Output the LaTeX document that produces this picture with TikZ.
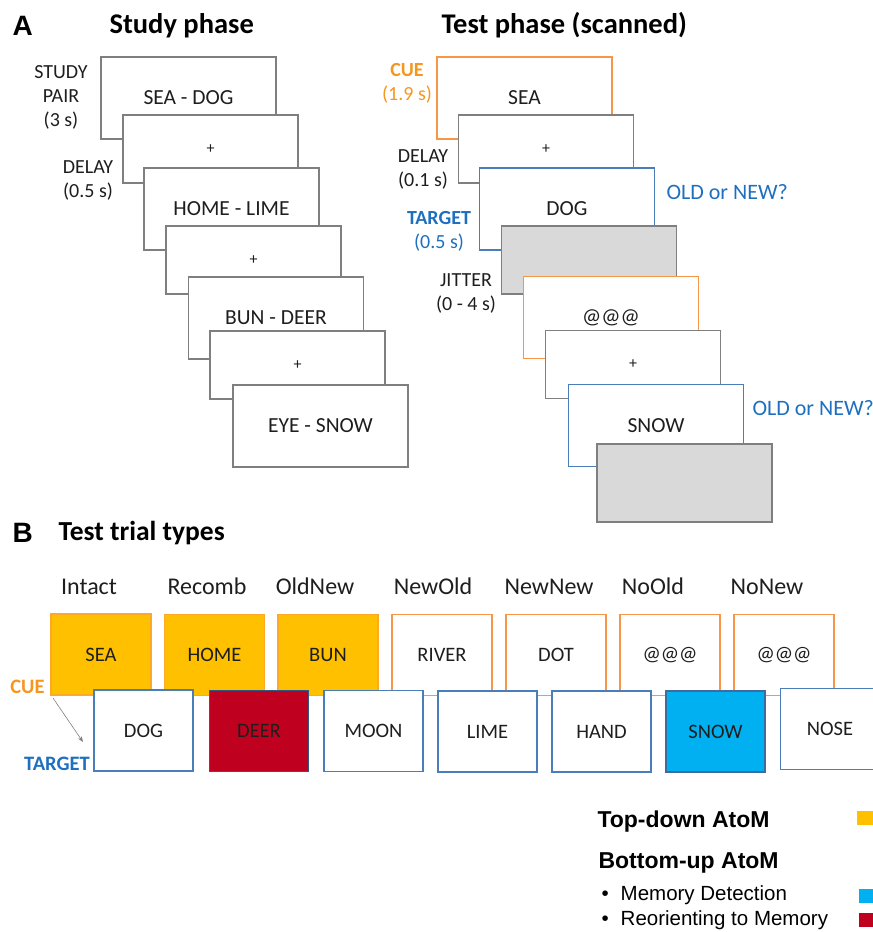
\documentclass[tikz,border=0pt]{standalone}
\usepackage{fontspec}
\setmainfont{Carlito}
\newfontfamily\arialfont{Liberation Sans}
\usetikzlibrary{arrows.meta, positioning}
\definecolor{framegray}{HTML}{7F7F7F}
\definecolor{inkgray}{HTML}{1E1E1E}
\definecolor{cueorange}{HTML}{F79646}
\definecolor{cuetext}{HTML}{F7961F}
\definecolor{tgtblue}{HTML}{4A7EBB}
\definecolor{tgttext}{HTML}{1F6FC0}
\definecolor{jittergray}{HTML}{D9D9D9}
\definecolor{tdyellow}{HTML}{FFC000}
\definecolor{reored}{HTML}{C0001F}
\definecolor{detblue}{HTML}{00B0F0}

\begin{document}
\begin{tikzpicture}[x=1pt, y=-1pt, >=Stealth]
 % We define the styles for the frames, boxes and labels
 \tikzset{
slide/.style = {draw=framegray, fill=white, line width=1.3pt, inner sep=0pt, minimum width=175pt, minimum height=82pt, text=inkgray, font=\fontsize{21.5}{24}\selectfont},
fixation/.style = {slide, minimum height=68pt, font=\fontsize{16}{18}\selectfont},
cueslide/.style = {slide, draw=cueorange, line width=1.6pt},
tgtslide/.style = {slide, draw=tgtblue, line width=1.6pt},
jitter/.style = {fixation, fill=jittergray},
lbl/.style = {align=center, anchor=base, text=inkgray, font=\fontsize{20}{24}\selectfont},
panel/.style = {anchor=base west, font=\arialfont\bfseries\fontsize{28}{32}\selectfont},
heading/.style = {anchor=base west, text=black, font=\bfseries\fontsize{28.5}{32}\selectfont},
query/.style = {anchor=base west, text=tgttext, font=\fontsize{22}{26}\selectfont},
cuebox/.style = {draw=cueorange, fill=white, line width=1.5pt, minimum width=100pt, minimum height=81pt, inner sep=0pt, text=inkgray, font=\fontsize{20.5}{24}\selectfont},
tdbox/.style = {cuebox, draw=cueorange!55!tdyellow, fill=tdyellow},
tgtbox/.style = {cuebox, draw=tgtblue, line width=1.8pt, minimum width=99pt},
trial/.style = {anchor=base, text=inkgray, font=\fontsize{24}{28}\selectfont},
keylbl/.style = {anchor=base, font=\bfseries\fontsize{20.5}{24}\selectfont},
legendhead/.style = {anchor=base west, font=\arialfont\bfseries\fontsize{23}{27}\selectfont},
bullet/.style = {anchor=base west, font=\arialfont\fontsize{20.5}{24}\selectfont},
swatch/.style = {anchor=north west, inner sep=0pt, minimum width=20pt, minimum height=14pt},
pointer/.style = {->, draw=gray, line width=0.6pt},
}
 \useasboundingbox (0,0) rectangle (873,932);

 % Panel A titles
 \node[panel] (pa) at (9,35) {A};
 \node[heading] (studytitle) at (106,33) {Study phase};
 \node[heading] (testtitle) at (438,33) {Test phase (scanned)};

 % Study phase frames
 \node[slide] (s1) at (188.5,98) {SEA - DOG};
 \node[fixation] (s2) at (210.5,149) {+};
 \node[slide] (s3) at (231.5,209) {HOME - LIME};
 \node[fixation] (s4) at (253.5,260) {+};
 \node[slide] (s5) at (276,318) {BUN - DEER};
 \node[fixation] (s6) at (297.5,365) {+};
 \node[slide] (s7) at (320.5,426) {EYE - SNOW};
 % (base of a stacked label is its last line)
 \node[lbl] (studylbl) at (61,126) {STUDY\\PAIR\\(3 s)};
 \node[lbl] (delaylbl) at (88,197) {DELAY\\(0.5 s)};

 % Test phase frames
 \node[cueslide] (t1) at (524.5,98) {SEA};
 \node[fixation] (t2) at (546,149) {+};
 \node[tgtslide] (t3) at (567,209) {DOG};
 \node[jitter] (t4) at (589,260) {};
 \node[cueslide] (t5) at (611,317.5) {@@@};
 \node[fixation] (t6) at (633,364.5) {+};
 \node[tgtslide] (t7) at (656,425.5) {SNOW};
 \node[jitter, minimum height=78pt] (t8) at (684.5,483) {};
 \node[lbl, text=cuetext] (cuelbl) at (407,100) {{\bfseries CUE}\\(1.9 s)};
 \node[lbl] (delay2lbl) at (423,186) {DELAY\\(0.1 s)};
 \node[lbl, text=tgttext] (tgtlbl) at (439,248) {{\bfseries TARGET}\\(0.5 s)};
 \node[lbl] (jitterlbl) at (466,310) {JITTER\\(0 - 4 s)};
 \node[query] (query1) at (663,199) {OLD or NEW?};
 \node[query] (query2) at (749,415) {OLD or NEW?};

 % Panel B title
 \node[panel] (pb) at (9,542) {B};
 \node[heading, font=\bfseries\fontsize{27.5}{32}\selectfont] (trialtitle) at (55,540) {Test trial types};

 % Trial type names
 \node[trial] (intact) at (89,594) {Intact};
 \node[trial] (recomb) at (207,594) {Recomb};
 \node[trial] (oldnew) at (315,594) {OldNew};
 \node[trial] (newold) at (433,594) {NewOld};
 \node[trial] (newnew) at (549,594) {NewNew};
 \node[trial] (noold) at (653,594) {NoOld};
 \node[trial] (nonew) at (767,594) {NoNew};

 % Cue boxes
 \node[tdbox] (c1) at (101,654.5) {SEA};
 \node[tdbox] (c2) at (214.5,655) {HOME};
 \node[tdbox] (c3) at (328,655) {BUN};
 \node[cuebox] (c4) at (442,655) {RIVER};
 \node[cuebox] (c5) at (556,655) {DOT};
 \node[cuebox] (c6) at (670,655) {@@@};
 \node[cuebox] (c7) at (784,655) {@@@};

 % Target boxes
 \node[tgtbox] (g1) at (143.5,730.5) {DOG};
 \node[tgtbox, fill=reored, draw=tgtblue!70!black] (g2) at (259,731) {DEER};
 \node[tgtbox] (g3) at (373.5,731) {MOON};
 \node[tgtbox] (g4) at (487.5,731.5) {LIME};
 \node[tgtbox] (g5) at (601.5,731.5) {HAND};
 \node[tgtbox, fill=detblue, draw=tgtblue!85!black] (g6) at (715.5,731.5) {SNOW};
 \node[tgtbox] (g7) at (830,729) {NOSE};

 % Cue to target key
 \node[keylbl, text=cuetext] (cuekey) at (27.5,693) {CUE};
 \node[keylbl, text=tgttext] (tgtkey) at (57,770) {TARGET};
 \coordinate (keyfrom) at (53,698);
 \coordinate (keyto) at (83,742);
 \draw[pointer] (keyfrom) -- (keyto);

 % Legend
 \node[legendhead] (tdhead) at (594,827) {Top-down AtoM};
 \node[legendhead] (buhead) at (595,868) {Bottom-up AtoM};
 \node[bullet] (detitem) at (598,900) {•\hskip 12pt Memory Detection};
 \node[bullet] (reoitem) at (598,925.5) {•\hskip 12pt Reorienting to Memory};
 \node[swatch, fill=tdyellow] (tdkey) at (857,811) {};
 \node[swatch, fill=detblue] (detkey) at (859,889) {};
 \node[swatch, fill=reored] (reokey) at (859,913) {};

\end{tikzpicture}
\end{document}
